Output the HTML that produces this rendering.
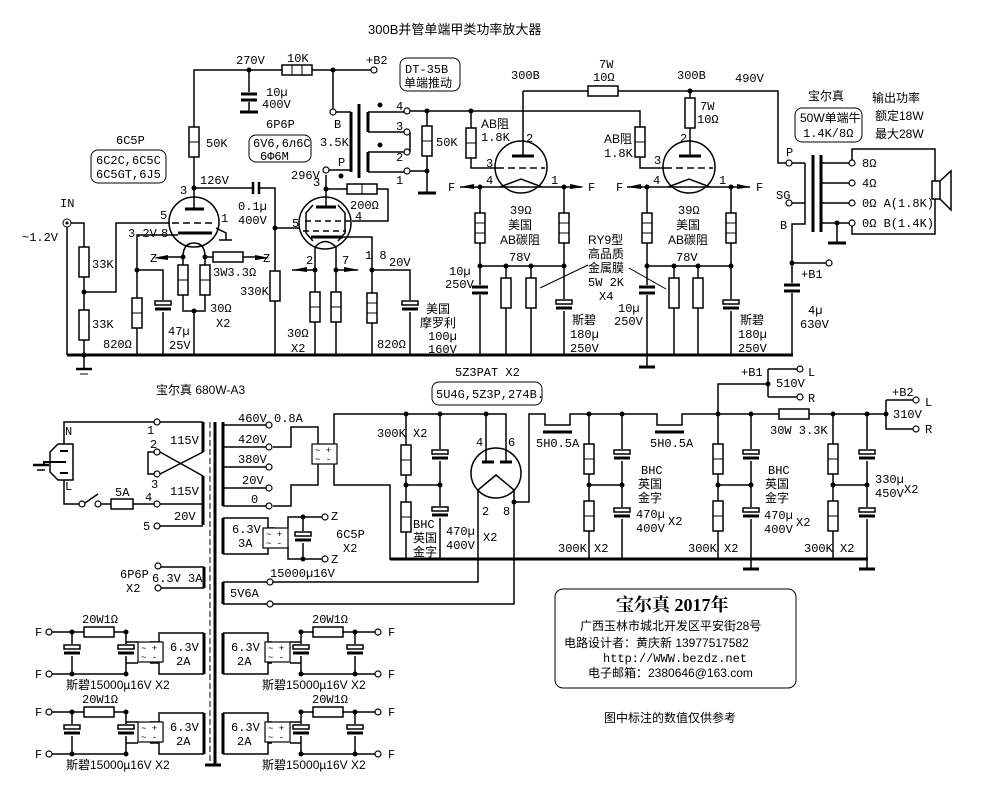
<!DOCTYPE html>
<html><head><meta charset="utf-8"><style>
html,body{margin:0;padding:0;background:#fff;}
svg{display:block}
text{font-family:"Liberation Mono","Noto Sans CJK SC",monospace;font-size:12px;fill:#000}
.c{font-family:"Liberation Sans","Noto Sans CJK SC",sans-serif;font-size:12px}
</style></head><body>
<svg width="1006" height="809" viewBox="0 0 1006 809" xmlns="http://www.w3.org/2000/svg">
<defs>
<g id="rv"><rect x="-5" y="0" width="10" height="30" fill="#fff" stroke="#000" stroke-width="1.5"/><line x1="-5" y1="10" x2="5" y2="10" stroke="#000"/><line x1="-5" y1="20" x2="5" y2="20" stroke="#000"/></g>
<g id="rv2"><rect x="-5" y="0" width="10" height="30" fill="#fff" stroke="#000" stroke-width="1.5"/><line x1="-5" y1="15" x2="5" y2="15" stroke="#000"/></g>
<g id="rv1"><rect x="-5" y="0" width="10" height="30" fill="#fff" stroke="#000" stroke-width="1.5"/></g>
<g id="rh"><rect x="0" y="-5" width="30" height="10" fill="#fff" stroke="#000" stroke-width="1.5"/></g>
<g id="rh3"><rect x="0" y="-5" width="30" height="10" fill="#fff" stroke="#000" stroke-width="1.5"/><line x1="10" y1="-5" x2="10" y2="5" stroke="#000"/><line x1="20" y1="-5" x2="20" y2="5" stroke="#000"/></g>
<g id="cap"><rect x="-9" y="-5" width="18" height="10" fill="#fff" stroke="none"/><line x1="-8" y1="-3" x2="8" y2="-3" stroke="#000" stroke-width="3"/><line x1="-8" y1="3" x2="8" y2="3" stroke="#000" stroke-width="3"/></g>
<g id="pcap"><rect x="-9" y="-6" width="18" height="12" fill="#fff" stroke="none"/><rect x="-8" y="-5" width="16" height="4" fill="#fff" stroke="#000" stroke-width="1.5"/><line x1="-8" y1="3" x2="8" y2="3" stroke="#000" stroke-width="3"/></g>
<g id="oc"><circle r="3" fill="#fff" stroke="#000" stroke-width="1.2"/></g>
<g id="br"><rect x="0" y="0" width="25" height="20" fill="#fff" stroke="#000" stroke-width="1.2"/><text x="3" y="9" style="font-size:9px">~ +</text><text x="3" y="18" style="font-size:9px">~ -</text></g>
</defs>
<g stroke="#000" stroke-width="1.5" fill="none">
<line x1="67" y1="355" x2="793" y2="355" stroke-width="3"/>
<path d="M194 127 V70 H282 M312 70 H371 M333 70 V109"/>
<path d="M249 70 V93 M249 102 V112"/>
<path d="M67 227 V355 M71 223 H84 V247 M84 277 V310 M84 339 V355 M84 292 H116 V223 H170"/>
<circle cx="194" cy="222" r="25"/>
<path d="M194 157 V209 M194 188 H253 M259 188 H275 V271 M275 301 V355 M275 228 H300"/>
<line x1="185" y1="209" x2="204" y2="209" stroke-width="3"/>
<path d="M178 233 H212" stroke-width="3"/>
<path d="M172 223 H214" stroke-dasharray="7,4"/>
<path d="M216 228 L226 233 V240 M219 240 H232"/>
<path d="M178 235 H137 V298 M137 328 V355 M137 270 H163 V303 M163 310 V355"/>
<path d="M183 257 Q183 243 194 243 Q205 243 205 257 M183 257 V265 M205 257 V265 M183 295 V311 H205 V295 M194 311 V355 M205 257 H213 M243 257 H255 M183 257 H168"/>
<line x1="253" y1="182" x2="253" y2="194" stroke-width="2.5"/><line x1="259" y1="182" x2="259" y2="194" stroke-width="2.5"/>
<circle cx="325" cy="223" r="26"/>
<path d="M326 175 V207 M326 189 H347 M377 189 H388 V221 H352"/>
<line x1="316" y1="207" x2="336" y2="207" stroke-width="3"/>
<path d="M305 221 H350 M303 231 H346" stroke-dasharray="6,4"/>
<line x1="311" y1="237" x2="343" y2="237" stroke-width="3"/>
<path d="M343 237 H372 V293 M372 323 V355 M372 270 H410 V302 M410 310 V355"/>
<path d="M315 268 V247 Q325 236 336 247 V268 M315 268 V292 M336 268 V292 M315 322 V355 M336 322 V355 M292 270 H315 M336 270 H358"/>
<path d="M313 241 L306 233 V213 L313 205 M338 241 L345 233 V213 L338 205"/>
<path d="M329 170 H351 M336 112 H351"/>
<line x1="351" y1="112" x2="351" y2="172" stroke-width="3"/>
<line x1="359" y1="104" x2="359" y2="178" stroke-width="3"/>
<path d="M368 112 V132 M368 152 V172" stroke-width="3"/>
<path d="M368 112 H404 M368 132 H404 M368 152 H404 M368 172 H404 M410 132 V152 M410 111 H640 V127 M410 171 H427 V193 M427 111 V126 M427 156 V171"/>
<line x1="418" y1="193" x2="436" y2="193" stroke-width="3"/>
<circle cx="521" cy="167" r="26"/>
<path d="M523 91 H588 M618 91 H778 V163 H786 M523 91 V156"/>
<line x1="512" y1="156" x2="534" y2="156" stroke-width="3"/>
<path d="M497 168 H545" stroke-dasharray="7,4"/>
<path d="M471 111 V128 M471 158 V168 H497"/>
<path d="M500 187 L521 179 L542 187"/>
<path d="M460 187 H582 M480 187 V213 M480 243 V285 M480 295 V355 M564 187 V213 M564 243 V300 M564 310 V355 M480 266 H564 M506 266 V278 M506 308 V355 M531 266 V278 M531 308 V355"/>
<path d="M540 288 L588 265 M629 268 L666 289" stroke-width="1"/>
<circle cx="689" cy="167" r="26"/>
<path d="M690 91 V98 M690 128 V156 M640 157 V168 H665"/>
<line x1="679" y1="156" x2="701" y2="156" stroke-width="3"/>
<path d="M665 168 H713" stroke-dasharray="7,4"/>
<path d="M668 187 L689 179 L710 187"/>
<path d="M627 187 H750 M647 187 V213 M647 243 V285 M647 295 V367 M731 187 V213 M731 243 V300 M731 310 V355 M647 266 H731 M674 266 V278 M674 308 V355 M698 266 V278 M698 308 V355"/>
<line x1="639" y1="367" x2="655" y2="367" stroke-width="3"/>
<path d="M792 203 H805 M805 163 V224 H792 V283 M792 293 V355 M792 263 H826"/>
<line x1="813" y1="155" x2="813" y2="232" stroke-width="3"/>
<line x1="821" y1="155" x2="821" y2="232" stroke-width="3"/>
<path d="M805 163 H792" />
<path d="M821 163 H849 M821 183 H849 M821 203 H849 M821 223 H849 M837 223 V243 M852 160 V149 H935 V181 M935 199 V234 H852 V226"/>
<line x1="828" y1="243" x2="846" y2="243" stroke-width="3"/>
<rect x="932" y="181" width="8" height="18" fill="#fff"/>
<path d="M940 181 L951 171 V210 L940 199"/>
<rect x="400" y="58" width="60" height="33" rx="7" stroke-width="1"/>
<rect x="91" y="150" width="75" height="33" rx="7" stroke-width="1"/>
<rect x="249" y="135" width="62" height="27" rx="7" stroke-width="1"/>
<rect x="795" y="108" width="67" height="34" rx="7" stroke-width="1"/>
<rect x="432" y="382" width="110" height="23" rx="7" stroke-width="1"/>
<rect x="555" y="589" width="241" height="99" rx="8" stroke-width="1"/>
<line x1="215" y1="422" x2="215" y2="765" stroke-width="3"/>
<line x1="210" y1="422" x2="210" y2="765" stroke-width="1" stroke-dasharray="6,3"/>
<line x1="205" y1="765" x2="221" y2="765" stroke-width="3"/>
<path d="M203 422 V452 M203 476 V525 M223 422 V506 M223 518 V554 M223 582 V604 M204 567 V588 M223 633 V674 M223 713 V754 M204 633 V674 M204 713 V754" stroke-width="3"/>
<path d="M160 422 H203 M160 452 L203 476 M160 474 L203 452 M154 452 H148 V474 H154 M160 504 H203 M160 526 H203 M154 422 H64 V444 M64 480 V504 H79 M85 503 L98 494 M101 504 H111 M133 504 H154"/>
<rect x="111" y="499" width="22" height="10" fill="#fff"/>
<path d="M58 444 H73 V480 H58 L50 472 V452 Z"/>
<path d="M60 451 H68 M60 473 H68 M56 462 H66 M56 462 H44 V465" stroke-width="2"/>
<line x1="33" y1="465" x2="49" y2="465" stroke-width="2.5"/><line x1="37" y1="470" x2="45" y2="470"/>
<path d="M223 425 H266 M223 447 H266 M223 467 H266 M223 488 H266 M223 506 H266 M273 447 H291 V427 H318 V444 M273 506 H291 V485 H318 V463 M334 444 V414 H472 M334 463 V485 H390 V559 H868"/>
<path d="M406 414 V445 M406 475 V502 M406 532 V559 M440 414 V450 M440 460 V507 M440 517 V559 M406 485 H440"/>
<circle cx="496" cy="473" r="25"/>
<line x1="482" y1="462" x2="494" y2="462" stroke-width="3"/><line x1="500" y1="462" x2="512" y2="462" stroke-width="3"/>
<path d="M486 462 V414 H472 M506 462 V414 H486 M478 490 L496 475 L514 490 M478 490 V582 H273 M514 490 V604 H273 M514 502 H529 V414 H545 V425 H570 V414 H657 V425 H682 V414 H779 M809 414 H886"/>
<line x1="543" y1="432" x2="572" y2="432" stroke-width="3"/>
<line x1="655" y1="432" x2="684" y2="432" stroke-width="3"/>
<path d="M589 414 V444 M589 474 V501 M589 531 V559 M622 414 V450 M622 460 V508 M622 518 V559 M589 485 H622"/>
<path d="M718 414 V444 M718 474 V501 M718 531 V559 M751 414 V450 M751 460 V508 M751 518 V569 M718 485 H751"/>
<path d="M833 414 V444 M833 474 V501 M833 531 V559 M867 414 V450 M867 460 V508 M867 518 V569 M833 485 H867"/>
<line x1="743" y1="569" x2="759" y2="569" stroke-width="3"/><line x1="859" y1="569" x2="875" y2="569" stroke-width="3"/>
<line x1="390" y1="559" x2="868" y2="559" stroke-width="3"/>
<path d="M718 414 V384 H768 M768 369 V397 M768 369 H797 M768 397 H797 M886 400 V429 H913 M886 400 H913"/>
<path d="M223 518 H268 V554 H223 M268 528 H275 M268 546 H275 M288 528 V517 H322 M288 546 V559 H322 M303 517 V532 M303 542 V559 M223 582 H267 M223 604 H267 M204 567 H161 M204 588 H161"/>
<g id="hl">
<path d="M204 633 H159 V674 H204 M159 642 H150 M159 663 H150 M138 642 H126 V632 M138 663 H126 V674 M52 632 H84 M114 632 H126 M52 674 H126 M72 632 V645 M72 655 V674 M126 632 V645 M126 655 V674"/>
<rect x="84" y="627" width="30" height="10" fill="#fff"/>
</g>
<use href="#hl" y="80"/>
<g id="hr">
<path d="M223 633 H268 V674 H223 M268 642 H272 M268 663 H272 M290 642 H301 V632 M290 663 H301 V674 M301 632 H313 M343 632 H375 M301 674 H375 M301 632 V645 M301 655 V674 M355 632 V645 M355 655 V674"/>
<rect x="313" y="627" width="30" height="10" fill="#fff"/>
</g>
<use href="#hr" y="80"/>
</g>
<use href="#rh3" x="282" y="70"/>
<use href="#cap" x="249" y="97"/><line x1="240" y1="112" x2="258" y2="112" stroke="#000" stroke-width="3"/>
<use href="#rv2" x="194" y="127"/>
<use href="#rv1" x="84" y="247"/><use href="#rv1" x="84" y="310"/>
<use href="#rv2" x="137" y="298"/>
<use href="#pcap" x="163" y="306"/>
<use href="#rv2" x="183" y="265"/><use href="#rv2" x="205" y="265"/>
<use href="#rh" x="213" y="257"/>
<use href="#rv1" x="275" y="271"/>
<use href="#rh" x="347" y="189"/><line x1="362" y1="184" x2="362" y2="194" stroke="#000"/>
<use href="#rv2" x="315" y="292"/><use href="#rv2" x="336" y="292"/>
<use href="#rv" x="372" y="293"/>
<use href="#pcap" x="410" y="306"/>
<use href="#rv2" x="427" y="126"/>
<use href="#rh" x="588" y="91"/>
<use href="#rv2" x="471" y="128"/><use href="#rv2" x="640" y="127"/><use href="#rv1" x="690" y="98"/>
<use href="#rv" x="480" y="213"/><use href="#rv" x="564" y="213"/><use href="#rv" x="647" y="213"/><use href="#rv" x="731" y="213"/>
<use href="#rv1" x="506" y="278"/><use href="#rv1" x="531" y="278"/><use href="#rv1" x="674" y="278"/><use href="#rv1" x="698" y="278"/>
<use href="#cap" x="480" y="290"/><use href="#cap" x="647" y="290"/><use href="#cap" x="792" y="288"/>
<use href="#pcap" x="564" y="305"/><use href="#pcap" x="731" y="305"/>
<use href="#rv2" x="406" y="445"/><use href="#rv2" x="406" y="502"/><use href="#pcap" x="440" y="455"/><use href="#pcap" x="440" y="512"/>
<use href="#rv2" x="589" y="444"/><use href="#rv2" x="589" y="501"/><use href="#pcap" x="622" y="455"/><use href="#pcap" x="622" y="513"/>
<use href="#rv2" x="718" y="444"/><use href="#rv2" x="718" y="501"/><use href="#pcap" x="751" y="455"/><use href="#pcap" x="751" y="513"/>
<use href="#rv2" x="833" y="444"/><use href="#rv2" x="833" y="501"/><use href="#pcap" x="867" y="455"/><use href="#pcap" x="867" y="513"/>
<use href="#rh" x="779" y="414"/>
<use href="#br" x="312" y="444"/><use href="#br" x="263" y="528"/><use href="#pcap" x="303" y="537"/>
<use href="#br" x="138" y="642"/><use href="#br" x="138" y="722"/><use href="#br" x="265" y="642"/><use href="#br" x="265" y="722"/>
<use href="#pcap" x="72" y="650"/><use href="#pcap" x="126" y="650"/><use href="#pcap" x="72" y="730"/><use href="#pcap" x="126" y="730"/>
<use href="#pcap" x="301" y="650"/><use href="#pcap" x="355" y="650"/><use href="#pcap" x="301" y="730"/><use href="#pcap" x="355" y="730"/>
<g fill="#000">
<circle cx="249" cy="70" r="2.5"/><circle cx="333" cy="70" r="2.5"/><circle cx="194" cy="188" r="2.5"/><circle cx="275" cy="228" r="2.5"/>
<circle cx="84" cy="292" r="2.5"/><circle cx="84" cy="355" r="2.5"/><circle cx="137" cy="270" r="2.5"/><circle cx="183" cy="257" r="2.5"/><circle cx="205" cy="257" r="2.5"/><circle cx="194" cy="311" r="2.5"/>
<circle cx="326" cy="189" r="2.5"/><circle cx="315" cy="270" r="2.5"/><circle cx="336" cy="270" r="2.5"/><circle cx="372" cy="270" r="2.5"/>
<circle cx="427" cy="111" r="2.5"/><circle cx="427" cy="171" r="2.5"/><circle cx="471" cy="111" r="2.5"/><circle cx="690" cy="91" r="2.5"/>
<circle cx="480" cy="187" r="2.5"/><circle cx="564" cy="187" r="2.5"/><circle cx="647" cy="187" r="2.5"/><circle cx="731" cy="187" r="2.5"/>
<circle cx="480" cy="266" r="2.5"/><circle cx="506" cy="266" r="2.5"/><circle cx="531" cy="266" r="2.5"/><circle cx="564" cy="266" r="2.5"/>
<circle cx="647" cy="266" r="2.5"/><circle cx="674" cy="266" r="2.5"/><circle cx="698" cy="266" r="2.5"/><circle cx="731" cy="266" r="2.5"/>
<circle cx="792" cy="263" r="2.5"/><circle cx="837" cy="223" r="2.5"/>
<circle cx="380" cy="105" r="2.5"/><circle cx="380" cy="145" r="2.5"/><circle cx="341" cy="176" r="2.5"/>
<circle cx="406" cy="414" r="2.5"/><circle cx="440" cy="414" r="2.5"/><circle cx="486" cy="414" r="2.5"/><circle cx="406" cy="485" r="2.5"/><circle cx="440" cy="485" r="2.5"/><circle cx="514" cy="502" r="2.5"/>
<circle cx="589" cy="414" r="2.5"/><circle cx="622" cy="414" r="2.5"/><circle cx="718" cy="414" r="2.5"/><circle cx="751" cy="414" r="2.5"/><circle cx="833" cy="414" r="2.5"/><circle cx="867" cy="414" r="2.5"/><circle cx="886" cy="414" r="2.5"/><circle cx="768" cy="384" r="2.5"/>
<circle cx="589" cy="485" r="2.5"/><circle cx="622" cy="485" r="2.5"/><circle cx="718" cy="485" r="2.5"/><circle cx="751" cy="485" r="2.5"/><circle cx="833" cy="485" r="2.5"/><circle cx="867" cy="485" r="2.5"/>
<circle cx="303" cy="517" r="2.5"/><circle cx="303" cy="559" r="2.5"/>
<circle cx="72" cy="632" r="2.5"/><circle cx="126" cy="632" r="2.5"/><circle cx="72" cy="674" r="2.5"/><circle cx="126" cy="674" r="2.5"/>
<circle cx="72" cy="712" r="2.5"/><circle cx="126" cy="712" r="2.5"/><circle cx="72" cy="754" r="2.5"/><circle cx="126" cy="754" r="2.5"/>
<circle cx="301" cy="632" r="2.5"/><circle cx="355" cy="632" r="2.5"/><circle cx="301" cy="674" r="2.5"/><circle cx="355" cy="674" r="2.5"/>
<circle cx="301" cy="712" r="2.5"/><circle cx="355" cy="712" r="2.5"/><circle cx="301" cy="754" r="2.5"/><circle cx="355" cy="754" r="2.5"/>
<path d="M153 258 L168 255 V260 Z M255 255 L270 258 L255 260Z M292 270 L307 267 V272Z M344 267 L359 270 L344 272Z M460 187 L474 184 V189Z M570 184 L584 187 L570 189Z M627 187 L641 184 V189Z M737 184 L751 187 L737 189Z"/>
</g>
<use href="#oc" x="374" y="70"/><use href="#oc" x="333" y="112"/><use href="#oc" x="326" y="170"/>
<use href="#oc" x="407" y="111"/><use href="#oc" x="407" y="132"/><use href="#oc" x="407" y="152"/><use href="#oc" x="407" y="171"/>
<circle cx="67" cy="223" r="4" fill="#fff" stroke="#000"/><circle cx="67" cy="223" r="1.5"/>
<use href="#oc" x="789" y="163"/><use href="#oc" x="789" y="203"/><use href="#oc" x="829" y="263"/>
<use href="#oc" x="852" y="163"/><use href="#oc" x="852" y="183"/><use href="#oc" x="852" y="203"/><use href="#oc" x="852" y="223"/>
<use href="#oc" x="157" y="422"/><use href="#oc" x="157" y="452"/><use href="#oc" x="157" y="474"/><use href="#oc" x="157" y="504"/><use href="#oc" x="157" y="526"/>
<use href="#oc" x="82" y="504"/><use href="#oc" x="98" y="504"/>
<use href="#oc" x="269" y="425"/><use href="#oc" x="269" y="447"/><use href="#oc" x="269" y="467"/><use href="#oc" x="269" y="488"/><use href="#oc" x="269" y="506"/>
<use href="#oc" x="325" y="517"/><use href="#oc" x="325" y="559"/><use href="#oc" x="270" y="582"/><use href="#oc" x="270" y="604"/>
<use href="#oc" x="158" y="566"/><use href="#oc" x="158" y="588"/>
<use href="#oc" x="49" y="632"/><use href="#oc" x="49" y="674"/><use href="#oc" x="49" y="712"/><use href="#oc" x="49" y="754"/>
<use href="#oc" x="378" y="632"/><use href="#oc" x="378" y="674"/><use href="#oc" x="378" y="712"/><use href="#oc" x="378" y="754"/>
<use href="#oc" x="800" y="369"/><use href="#oc" x="800" y="397"/><use href="#oc" x="916" y="400"/><use href="#oc" x="916" y="429"/>
<line x1="76" y1="369" x2="92" y2="369" stroke="#000" stroke-width="2.5"/><line x1="80" y1="374" x2="88" y2="374" stroke="#000"/><line x1="84" y1="355" x2="84" y2="369" stroke="#000" stroke-width="1.5"/>
<text x="368" y="34" class="c" style="font-size:13px">300B并管单端甲类功率放大器</text>
<text x="236" y="64">270V</text><text x="287" y="62">10K</text><text x="366" y="64">+B2</text>
<text x="266" y="96">10µ</text><text x="262" y="108">400V</text>
<text x="405" y="73">DT-35B</text><text x="404" y="87" class="c">单端推动</text>
<text x="116" y="144">6C5P</text><text x="96" y="164">6C2C,6C5C</text><text x="96" y="178">6C5GT,6J5</text>
<text x="206" y="147">50K</text>
<text x="266" y="128">6P6P</text><text x="253" y="147">6V6,6л6C</text><text x="260" y="160">6Ф6M</text>
<text x="334" y="128">B</text><text x="320" y="146">3.5K</text><text x="338" y="166">P</text><text x="291" y="179">296V</text>
<text x="396" y="110">4</text><text x="396" y="130">3</text><text x="396" y="161">2</text><text x="396" y="184">1</text><text x="436" y="146">50K</text>
<text x="60" y="207">IN</text><text x="22" y="241">~1.2V</text>
<text x="180" y="194">3</text><text x="200" y="184">126V</text><text x="238" y="210">0.1µ</text><text x="238" y="224">400V</text>
<text x="160" y="219">5</text><text x="221" y="222">1</text><text x="128" y="237">3.2V</text><text x="161" y="237">8</text>
<text x="150" y="262">Z</text><text x="263" y="262">Z</text><text x="213" y="276">3W3.3Ω</text>
<text x="92" y="268">33K</text><text x="92" y="328">33K</text><text x="103" y="348">820Ω</text>
<text x="168" y="335">47µ</text><text x="169" y="349">25V</text><text x="210" y="312">30Ω</text><text x="216" y="327">X2</text>
<text x="240" y="295">330K</text>
<text x="313" y="186">3</text><text x="292" y="227">5</text><text x="355" y="220">4</text><text x="350" y="209">200Ω</text>
<text x="306" y="264">2</text><text x="342" y="264">7</text><text x="365" y="259">1 8</text><text x="389" y="266">20V</text>
<text x="287" y="337">30Ω</text><text x="291" y="352">X2</text><text x="377" y="348">820Ω</text>
<text x="426" y="313" class="c">美国</text><text x="420" y="327" class="c">摩罗利</text><text x="428" y="340">100µ</text><text x="428" y="353">160V</text>
<text x="511" y="79">300B</text><text x="677" y="79">300B</text><text x="599" y="68">7W</text><text x="593" y="81">10Ω</text><text x="735" y="82">490V</text>
<text x="481" y="128" class="c">AB阻</text><text x="481" y="141">1.8K</text><text x="604" y="143" class="c">AB阻</text><text x="604" y="157">1.8K</text>
<text x="700" y="110">7W</text><text x="697" y="123">10Ω</text>
<text x="486" y="167">3</text><text x="526" y="142">2</text><text x="654" y="164">3</text><text x="680" y="142">2</text>
<text x="448" y="191">F</text><text x="486" y="184">4</text><text x="551" y="184">1</text><text x="588" y="191">F</text>
<text x="616" y="191">F</text><text x="653" y="184">4</text><text x="719" y="184">1</text><text x="756" y="191">F</text>
<text x="510" y="214">39Ω</text><text x="508" y="229" class="c">美国</text><text x="500" y="244" class="c">AB碳阻</text>
<text x="678" y="214">39Ω</text><text x="676" y="229" class="c">美国</text><text x="668" y="244" class="c">AB碳阻</text>
<text x="509" y="261">78V</text><text x="676" y="261">78V</text>
<text x="449" y="275">10µ</text><text x="445" y="288">250V</text><text x="618" y="312">10µ</text><text x="614" y="325">250V</text>
<text x="588" y="244" class="c">RY9型</text><text x="588" y="258" class="c">高品质</text><text x="588" y="272" class="c">金属膜</text><text x="588" y="286">5W 2K</text><text x="599" y="300">X4</text>
<text x="572" y="324" class="c">斯碧</text><text x="570" y="338">180µ</text><text x="570" y="352">250V</text>
<text x="740" y="324" class="c">斯碧</text><text x="738" y="338">180µ</text><text x="738" y="352">250V</text>
<text x="808" y="100" class="c">宝尔真</text><text x="800" y="122" class="c">50W单端牛</text><text x="803" y="137">1.4K/8Ω</text>
<text x="872" y="102" class="c">输出功率</text><text x="875" y="120" class="c">额定18W</text><text x="875" y="138" class="c">最大28W</text>
<text x="786" y="156">P</text><text x="776" y="199">SG</text><text x="780" y="229">B</text>
<text x="862" y="167">8Ω</text><text x="862" y="187">4Ω</text><text x="862" y="207">0Ω A(1.8K)</text><text x="862" y="227">0Ω B(1.4K)</text>
<text x="801" y="278">+B1</text><text x="808" y="314">4µ</text><text x="800" y="328">630V</text>
<text x="455" y="376">5Z3PAT X2</text><text x="436" y="398">5U4G,5Z3P,274B.</text>
<text x="156" y="394" class="c">宝尔真 680W-A3</text>
<text x="65" y="435">N</text><text x="65" y="490">L</text><text x="115" y="496">5A</text>
<text x="147" y="434">1</text><text x="150" y="448">2</text><text x="151" y="488">3</text><text x="145" y="501">4</text><text x="143" y="530">5</text>
<text x="170" y="444">115V</text><text x="170" y="495">115V</text><text x="174" y="520">20V</text>
<text x="238" y="422">460V 0.8A</text><text x="238" y="443">420V</text><text x="238" y="463">380V</text><text x="242" y="484">20V</text><text x="251" y="503">0</text>
<text x="232" y="533">6.3V</text><text x="238" y="547">3A</text>
<text x="331" y="520">Z</text><text x="331" y="563">Z</text><text x="336" y="538">6C5P</text><text x="343" y="552">X2</text><text x="270" y="577">15000µ16V</text>
<text x="120" y="578">6P6P</text><text x="126" y="592">X2</text><text x="152" y="582">6.3V 3A</text>
<text x="230" y="597">5V6A</text>
<text x="377" y="437">300K X2</text><text x="413" y="528">BHC</text><text x="413" y="542" class="c">英国</text><text x="413" y="556" class="c">金字</text>
<text x="446" y="535">470µ</text><text x="446" y="549">400V</text><text x="483" y="541">X2</text>
<text x="476" y="446">4</text><text x="508" y="446">6</text><text x="482" y="515">2</text><text x="503" y="515">8</text>
<text x="536" y="447">5H0.5A</text><text x="650" y="447">5H0.5A</text>
<text x="558" y="552">300K X2</text><text x="688" y="552">300K X2</text><text x="804" y="552">300K X2</text>
<text x="641" y="474">BHC</text><text x="638" y="488" class="c">英国</text><text x="638" y="502" class="c">金字</text><text x="636" y="518">470µ</text><text x="636" y="532">400V</text><text x="668" y="525">X2</text>
<text x="768" y="474">BHC</text><text x="765" y="488" class="c">英国</text><text x="765" y="502" class="c">金字</text><text x="764" y="519">470µ</text><text x="764" y="533">400V</text><text x="796" y="526">X2</text>
<text x="875" y="483">330µ</text><text x="875" y="497">450V</text><text x="904" y="493">X2</text>
<text x="741" y="376">+B1</text><text x="776" y="387">510V</text><text x="808" y="376">L</text><text x="808" y="402">R</text>
<text x="770" y="434">30W 3.3K</text>
<text x="892" y="396">+B2</text><text x="893" y="418">310V</text><text x="925" y="406">L</text><text x="925" y="433">R</text>
<text x="35" y="636">F</text><text x="35" y="678">F</text><text x="35" y="716">F</text><text x="35" y="758">F</text>
<text x="388" y="636">F</text><text x="388" y="678">F</text><text x="388" y="716">F</text><text x="388" y="758">F</text>
<text x="82" y="623">20W1Ω</text><text x="82" y="703">20W1Ω</text><text x="312" y="623">20W1Ω</text><text x="312" y="703">20W1Ω</text>
<text x="170" y="651">6.3V</text><text x="176" y="665">2A</text><text x="170" y="731">6.3V</text><text x="176" y="745">2A</text>
<text x="231" y="651">6.3V</text><text x="237" y="665">2A</text><text x="231" y="731">6.3V</text><text x="237" y="745">2A</text>
<text x="66" y="689" class="c">斯碧15000µ16V X2</text><text x="66" y="769" class="c">斯碧15000µ16V X2</text>
<text x="262" y="689" class="c">斯碧15000µ16V X2</text><text x="262" y="769" class="c">斯碧15000µ16V X2</text>
<text x="616" y="611" style="font-family:'Liberation Serif','Noto Serif CJK SC',serif;font-size:18px;font-weight:bold">宝尔真 2017年</text>
<text x="580" y="630" class="c">广西玉林市城北开发区平安街28号</text>
<text x="564" y="647" class="c">电路设计者：黄庆新    13977517582</text>
<text x="603" y="662">http://WWW.bezdz.net</text>
<text x="588" y="677" class="c">电子邮箱：2380646@163.com</text>
<text x="604" y="722" class="c">图中标注的数值仅供参考</text>
</svg>
</body></html>
